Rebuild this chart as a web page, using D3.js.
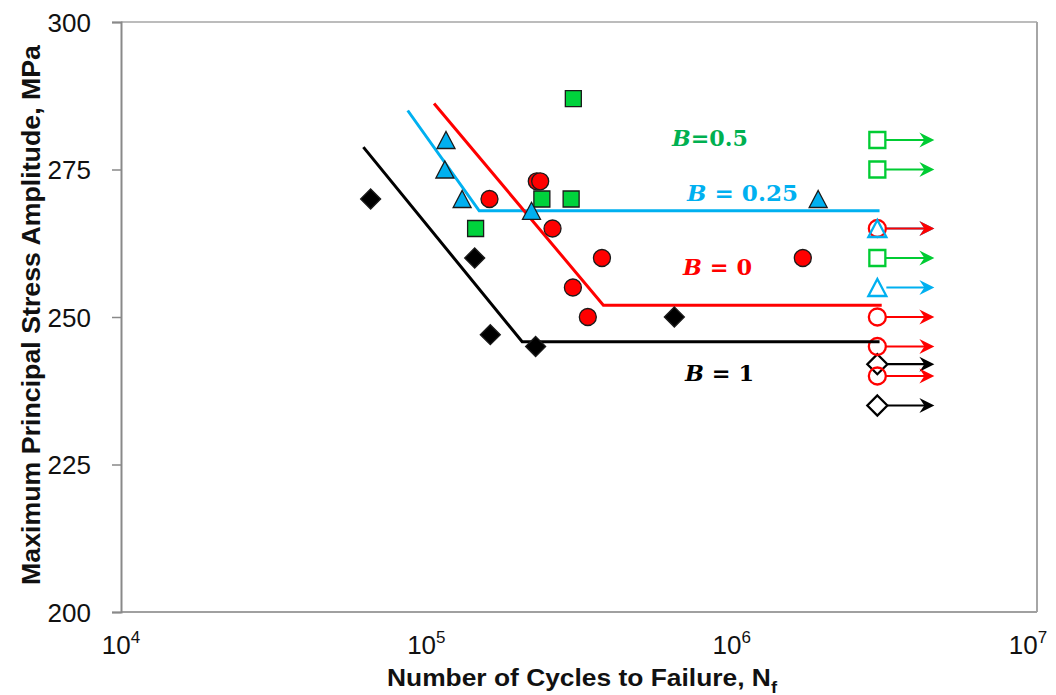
<!DOCTYPE html>
<html>
<head>
<meta charset="utf-8">
<script src="https://cdn.jsdelivr.net/npm/d3@7"></script>
<style>
html,body{margin:0;padding:0;background:#fff;}
svg{display:block;}
</style>
</head>
<body>
<svg id="chart" width="1056" height="695"></svg>
<script>
// ---------- data ----------
const xTickValues = [1e4, 1e5, 1e6, 1e7];
const xTickExponents = ["4", "5", "6", "7"];
const yTickValues = [200, 225, 250, 275, 300];

// B = 1 (black diamonds)
const b1Cycles = [65700, 144000, 162000, 228000, 649000];
const b1Stress = [270, 260, 247, 245, 250];
const b1RunoutCycles = [3.0e6, 3.0e6];
const b1RunoutStress = [242, 235];
const b1FitCycles = [62200, 206000, 3.05e6];
const b1FitStress = [278.8, 245.8, 245.8];

// B = 0.25 (blue triangles)
const b025Cycles = [116000, 115000, 131000, 221000, 1920000];
const b025Stress = [280, 275, 270, 268, 270];
const b025RunoutCycles = [3.0e6, 3.0e6];
const b025RunoutStress = [265, 255];
const b025FitCycles = [86900, 149000, 3.05e6];
const b025FitStress = [285, 268, 268];

// B = 0.5 (green squares)
const b05Cycles = [303000, 239000, 298000, 145000];
const b05Stress = [287, 270, 270, 265];
const b05RunoutCycles = [3.0e6, 3.0e6, 3.0e6];
const b05RunoutStress = [280, 275, 260];

// B = 0 (red circles)
const b0Cycles = [230000, 236000, 161000, 259000, 376000, 302000, 338000, 1710000];
const b0Stress = [273, 273, 270, 265, 260, 255, 250, 260];
const b0RunoutCycles = [3.0e6, 3.0e6, 3.0e6, 3.0e6];
const b0RunoutStress = [265, 250, 245, 240];
const b0FitCycles = [106000, 380000, 3.1e6];
const b0FitStress = [286.2, 252, 252];

const xTitle = "Number of Cycles to Failure, N";
const xTitleSub = "f";
const yTitle = "Maximum Principal Stress Amplitude, MPa";

// ---------- styles ----------
const C = {
  black: "#000000",
  blue: "#00b0f0",
  green: "#00cc33",
  greenFill: "#00d23c",
  greenText: "#00b050",
  red: "#ff0000"
};

const svg = d3.select("#chart");
const x = d3.scaleLog().domain([1e4, 1e7]).range([121, 1037]);
const y = d3.scaleLinear().domain([200, 300]).range([612, 22]);

// ---------- frame ----------
const frame = svg.append("g");
frame.append("line").attr("x1", 121).attr("x2", 1037).attr("y1", y(300)).attr("y2", y(300))
  .attr("stroke", "#a6a6a6").attr("stroke-width", 1.5);
frame.append("line").attr("x1", 1037).attr("x2", 1037).attr("y1", y(300)).attr("y2", y(200))
  .attr("stroke", "#a6a6a6").attr("stroke-width", 2);
frame.append("line").attr("x1", 121).attr("x2", 1037).attr("y1", y(200)).attr("y2", y(200))
  .attr("stroke", "#a0a0a0").attr("stroke-width", 2);

// y axis
const yAxis = d3.axisLeft(y).tickValues(yTickValues).tickSize(9).tickPadding(21).tickFormat(d3.format("d"));
const gy = svg.append("g").attr("transform", "translate(121,0)").call(yAxis);
gy.select(".domain").attr("stroke", "#898989").attr("stroke-width", 2);
gy.selectAll(".tick line").attr("stroke", "#898989").attr("stroke-width", 1.5);
gy.selectAll(".tick text").attr("font-family", "'Liberation Sans', Arial, sans-serif")
  .attr("font-size", 26).attr("fill", "#111").attr("dy", "0.36em");

// x axis labels (no tick marks)
const xl = svg.append("g");
xTickValues.forEach((v, i) => {
  const t = xl.append("text")
    .attr("x", x(v) + (i === 3 ? -9 : 0)).attr("y", 654)
    .attr("text-anchor", "middle")
    .attr("font-family", "'Liberation Sans', Arial, sans-serif")
    .attr("font-size", 26).attr("fill", "#111");
  t.append("tspan").text("10");
  t.append("tspan").attr("font-size", 17).attr("dy", -11).text(xTickExponents[i]);
});

// titles
const xt = svg.append("text")
  .attr("x", 582).attr("y", 686)
  .attr("text-anchor", "middle")
  .attr("font-family", "'Liberation Sans', Arial, sans-serif")
  .attr("font-weight", "bold").attr("font-size", 23).attr("fill", "#111")
  .attr("textLength", 390).attr("lengthAdjust", "spacingAndGlyphs");
xt.append("tspan").text(xTitle);
xt.append("tspan").attr("font-size", 16).attr("dy", 7).text(xTitleSub);

svg.append("text")
  .attr("transform", "translate(40,315) rotate(-90)")
  .attr("text-anchor", "middle")
  .attr("font-family", "'Liberation Sans', Arial, sans-serif")
  .attr("font-weight", "bold").attr("font-size", 25).attr("fill", "#111")
  .attr("textLength", 540).attr("lengthAdjust", "spacingAndGlyphs")
  .text(yTitle);

// ---------- marker helpers ----------
function diamondPath(r) { return `M0,${-r}L${r},0L0,${r}L${-r},0Z`; }
function trianglePath(w, h) { return `M0,${-h/2}L${w/2},${h/2}L${-w/2},${h/2}Z`; }
function shapePath(kind) {
  if (kind === "diamond") return diamondPath(10);
  if (kind === "triangle") return trianglePath(18, 17);
  if (kind === "square") return "M-8,-8H8V8H-8Z";
  return d3.symbol().type(d3.symbolCircle).size(Math.PI * 8.5 * 8.5)();
}
const markerHalf = {diamond: 10, triangle: 9, square: 8, circle: 8.5};

function zip(a, b) { return a.map((v, i) => ({c: v, s: b[i]})); }

// ---------- runouts (arrows first, then open markers) ----------
const arrowLayer = svg.append("g");
const runMarkLayer = svg.append("g");
const arrowLen = 57;
function runArrows(cycles, stress, kind, color) {
  zip(cycles, stress).forEach(d => {
    const cx = x(d.c), cy = y(d.s);
    const x0 = cx + markerHalf[kind];
    const tip = cx + arrowLen;
    arrowLayer.append("line").attr("x1", x0).attr("x2", tip - 6).attr("y1", cy).attr("y2", cy)
      .attr("stroke", color).attr("stroke-width", 2.2);
    arrowLayer.append("path").attr("transform", `translate(${tip},${cy})`)
      .attr("d", "M0,0L-15,-7.5L-10,0L-15,7.5Z").attr("fill", color);
  });
}
function runMarks(cycles, stress, kind, color) {
  runMarkLayer.append("g").selectAll("path").data(zip(cycles, stress)).join("path")
    .attr("transform", d => `translate(${x(d.c)},${y(d.s)})`)
    .attr("d", shapePath(kind)).attr("fill", "none")
    .attr("stroke", color).attr("stroke-width", 2.3);
}
runArrows(b025RunoutCycles, b025RunoutStress, "triangle", C.blue);
runArrows(b05RunoutCycles, b05RunoutStress, "square", C.green);
runArrows(b1RunoutCycles, b1RunoutStress, "diamond", C.black);
runArrows(b0RunoutCycles, b0RunoutStress, "circle", C.red);
runMarks(b05RunoutCycles, b05RunoutStress, "square", C.green);
runMarks(b1RunoutCycles, b1RunoutStress, "diamond", C.black);
runMarks(b0RunoutCycles, b0RunoutStress, "circle", C.red);
runMarks(b025RunoutCycles, b025RunoutStress, "triangle", C.blue);

// ---------- fit lines ----------
const line = d3.line().x(d => x(d.c)).y(d => y(d.s));
function fit(cycles, stress, color) {
  svg.append("path").datum(zip(cycles, stress)).attr("d", line)
    .attr("fill", "none").attr("stroke", color).attr("stroke-width", 3);
}
fit(b1FitCycles, b1FitStress, C.black);
fit(b025FitCycles, b025FitStress, C.blue);
fit(b0FitCycles, b0FitStress, C.red);

// ---------- failure markers ----------
function points(cycles, stress, kind, fill) {
  svg.append("g").selectAll("path").data(zip(cycles, stress)).join("path")
    .attr("transform", d => `translate(${x(d.c)},${y(d.s)})`)
    .attr("d", shapePath(kind))
    .attr("fill", fill).attr("stroke", "#1a1a1a").attr("stroke-width", 1.3);
}
points(b1Cycles, b1Stress, "diamond", C.black);
points(b05Cycles, b05Stress, "square", C.greenFill);
points(b0Cycles, b0Stress, "circle", C.red);
points(b025Cycles, b025Stress, "triangle", C.blue);

// ---------- equation labels ----------
function label(xp, yp, len, color, rest) {
  const t = svg.append("text").attr("x", xp).attr("y", yp)
    .attr("font-family", "'DejaVu Serif', 'Liberation Serif', serif")
    .attr("font-weight", "bold").attr("font-size", 22).attr("fill", color)
    .attr("textLength", len).attr("lengthAdjust", "spacingAndGlyphs");
  t.append("tspan").attr("font-style", "italic").text("B");
  t.append("tspan").text(rest);
}
label(672, 146, 76, C.greenText, "=0.5");
label(687, 201, 111, C.blue, " = 0.25");
label(683, 275, 69, C.red, " = 0");
label(685, 381, 69, C.black, " = 1");
</script>
</body>
</html>
